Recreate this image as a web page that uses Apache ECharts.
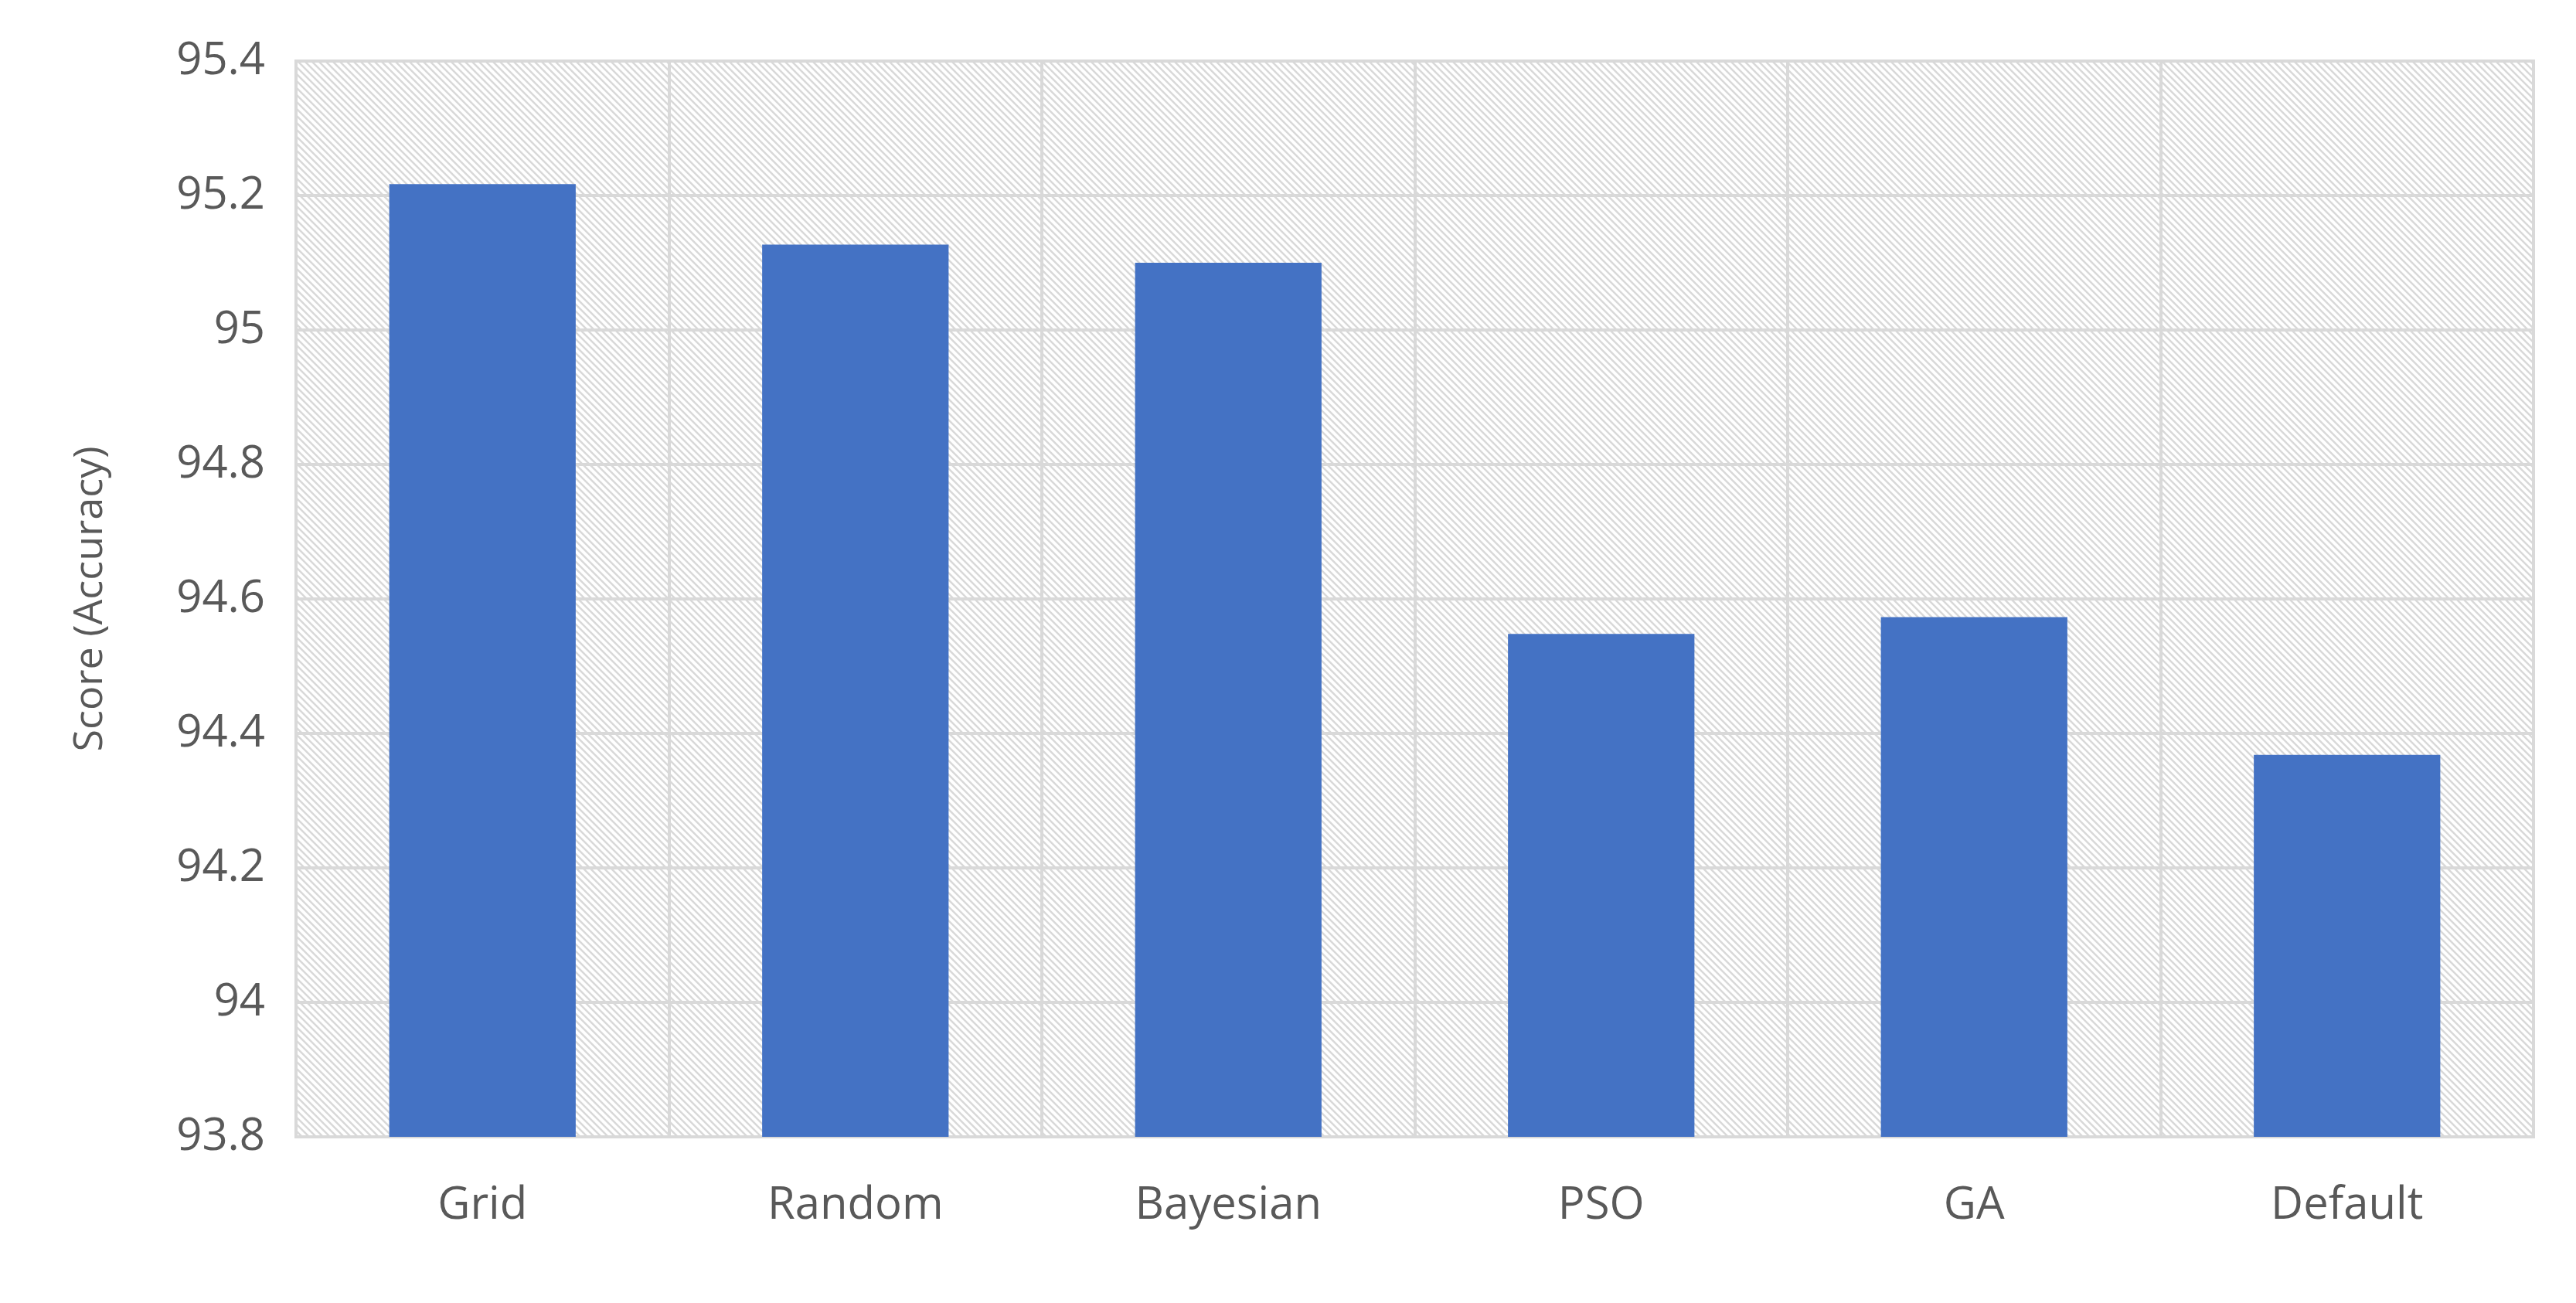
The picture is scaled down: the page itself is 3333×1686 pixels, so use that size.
<!DOCTYPE html>
<html>
<head>
<meta charset="utf-8">
<script src="https://cdn.jsdelivr.net/npm/echarts@6/dist/echarts.min.js"></script>
<style>html,body{margin:0;padding:0;background:#fff}#main{width:3333px;height:1686px}</style>
</head>
<body>
<div id="main"></div>
<script>
var categories = ['Grid', 'Random', 'Bayesian', 'PSO', 'GA', 'Default'];
var scores = [95.217, 95.127, 95.10, 94.548, 94.573, 94.368];
var yTicks = { min: 93.8, max: 95.4, step: 0.2 };

// diagonal hatch for the plot background
var hatch = document.createElement('canvas');
hatch.width = 9; hatch.height = 9;
var ctx = hatch.getContext('2d');
ctx.fillStyle = '#fff';
ctx.fillRect(0, 0, 9, 9);
ctx.strokeStyle = '#d9d9d9';
ctx.lineWidth = 2.5;
ctx.beginPath();
ctx.moveTo(-2, -2); ctx.lineTo(11, 11);
ctx.moveTo(-11, -2); ctx.lineTo(2, 11);
ctx.moveTo(7, -2); ctx.lineTo(20, 11);
ctx.stroke();

var myChart = echarts.init(document.getElementById('main'));
var option = {
    animation: false,
    textStyle: { fontFamily: '"Open Sans", "Noto Sans", sans-serif' },
    grid: {
        left: 383, right: 55, top: 79, bottom: 215,
        show: true,
        backgroundColor: { image: hatch, repeat: 'repeat' },
        borderColor: '#d9d9d9', borderWidth: 4
    },
    xAxis: {
        type: 'category',
        data: categories,
        axisLine: { show: false },
        axisTick: { show: false },
        axisLabel: { color: '#595959', fontSize: 58, margin: 60 },
        splitLine: { show: true, lineStyle: { color: '#d9d9d9', width: 4 } }
    },
    yAxis: {
        type: 'value',
        min: yTicks.min, max: yTicks.max, interval: yTicks.step,
        name: 'Score (Accuracy)',
        nameLocation: 'middle',
        nameGap: 240,
        nameTextStyle: { color: '#595959', fontSize: 52 },
        axisLine: { show: false },
        axisTick: { show: false },
        axisLabel: {
            color: '#595959', fontSize: 58, margin: 40,
            formatter: function (v) { return +v.toFixed(1) + ''; }
        },
        splitLine: { lineStyle: { color: '#d9d9d9', width: 4 } }
    },
    series: [{
        type: 'bar',
        data: scores,
        barWidth: '50%',
        itemStyle: { color: '#4472c4' }
    }]
};
myChart.setOption(option);
</script>
</body>
</html>
